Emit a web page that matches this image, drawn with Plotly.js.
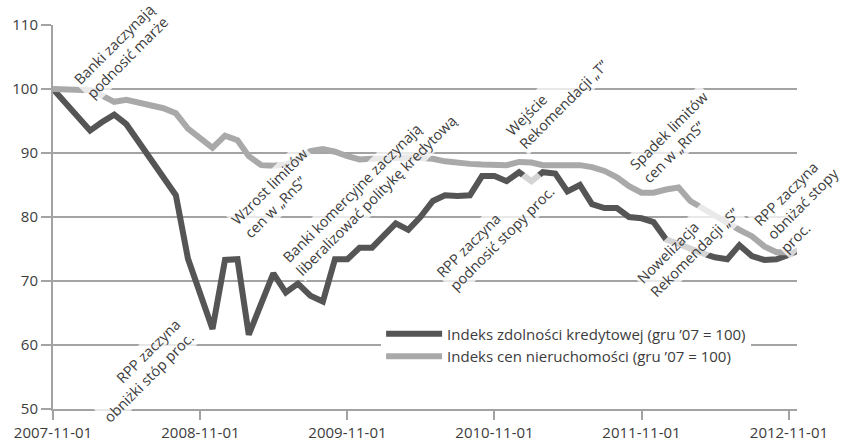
<!DOCTYPE html>
<html>
<head>
<meta charset="utf-8">
<script src="https://cdn.plot.ly/plotly-3.0.1.min.js"></script>
<style>
html,body{margin:0;padding:0;background:#fff;}
#chart{width:841px;height:443px;}
</style>
</head>
<body>
<div id="chart"></div>
<script>
// ---- data ----
var startYear = 2007, startMonth = 11; // first observation: 2007-11-01, monthly
var seriesNames = [
  "Indeks zdolności kredytowej (gru ’07 = 100)",
  "Indeks cen nieruchomości (gru ’07 = 100)"
];
var creditIndex = [
  100, 97.8, 95.6, 93.5, 94.8, 96, 94.5, 91.8, 89, 86.2,
  83.4, 73.5, 67.7, 62.5, 73.3, 73.4, 61.6, 66.5, 71.2, 68.2,
  69.6, 67.7, 66.8, 73.4, 73.4, 75.2, 75.2, 77.2, 79, 78,
  80, 82.5, 83.4, 83.3, 83.4, 86.4, 86.4, 85.6, 87, 85.6,
  87, 86.8, 84, 85, 82, 81.4, 81.4, 80, 79.8, 79.2,
  76.5, 75.8, 75, 74.3, 73.7, 73.4, 75.6, 73.9, 73.3, 73.4,
  74.1, 75
];
var priceIndex = [
  100, 100, 100, 99.8, 99, 98, 98.3, 97.8, 97.4, 97,
  96.2, 93.8, 92.3, 90.8, 92.7, 92, 89.5, 88.1, 88, 88.2,
  89, 90.3, 90.6, 90.2, 89.5, 89, 89.1, 89.2, 89.3, 89.3,
  89.2, 89.1, 88.7, 88.4, 88.3, 88.2, 88.1, 88.1, 88.6, 88.5,
  88.1, 88.1, 88.1, 88.1, 87.8, 87.2, 86.2, 84.8, 83.8, 83.8,
  84.3, 84.6, 82.5, 81.3, 80.2, 79.2, 78, 77, 75.4, 74.5,
  74.5
];
var tickDates = ["2007-11-01","2008-11-01","2009-11-01","2010-11-01","2011-11-01","2012-11-01"];
var eventLabels = [
  "Banki zaczynają<br>podnosić marże",
  "RPP zaczyna<br>obniżki stóp proc.",
  "Wzrost limitów<br>cen w „RnS”",
  "Banki komercyjne zaczynają<br>liberalizować politykę kredytową",
  "RPP zaczyna<br>podnosić stopy proc.",
  "Wejście<br>Rekomendacji „T”",
  "Spadek limitów<br>cen w „RnS”",
  "Nowelizacja<br>Rekomendacji „S”",
  "RPP zaczyna<br>obniżać stopy<br>proc."
];

// ---- build ----
function monthDates(n){
  var out = [];
  for (var i = 0; i < n; i++){
    var m = startMonth - 1 + i;
    var y = startYear + Math.floor(m / 12);
    var mm = (m % 12) + 1;
    out.push(y + "-" + (mm < 10 ? "0" + mm : mm) + "-01");
  }
  return out;
}

var FONT = "Open Sans, DejaVu Sans, sans-serif";
var TXT = "#3c3c3c";
var GRID = "#a3a3a3";

var traces = [
  {x: monthDates(creditIndex.length), y: creditIndex, name: seriesNames[0], type: "scatter", mode: "lines",
   line: {color: "#555555", width: 6}},
  {x: monthDates(priceIndex.length), y: priceIndex, name: seriesNames[1], type: "scatter", mode: "lines",
   line: {color: "#a9a9a9", width: 6}}
];

// label placement (paper coords) and alignment
var labelPos = [
  [0.091, 0.932, "center"],
  [0.119, 0.100, "right"],
  [0.300, 0.562, "left"],
  [0.425, 0.573, "left"],
  [0.594, 0.462, "left"],
  [0.677, 0.810, "left"],
  [0.837, 0.708, "left"],
  [0.853, 0.425, "left"],
  [1.008, 0.536, "left"]
];
var annotations = eventLabels.map(function(t, i){
  return {text: t, xref: "paper", yref: "paper", x: labelPos[i][0], y: labelPos[i][1],
    xanchor: "center", yanchor: "middle", showarrow: false, textangle: -45,
    align: labelPos[i][2], bgcolor: "rgba(255,255,255,0.75)", borderpad: 1,
    font: {family: FONT, size: 14.5, color: TXT}};
});

var layout = {
  width: 841, height: 443,
  margin: {l: 53, r: 44, t: 25, b: 34},
  paper_bgcolor: "#fff", plot_bgcolor: "#fff",
  font: {family: FONT, color: TXT},
  showlegend: true,
  legend: {x: 0.441, y: 0.238, xanchor: "left", yanchor: "top", bgcolor: "#fff",
    itemwidth: 56, font: {family: FONT, size: 15, color: TXT}, tracegroupgap: 0},
  xaxis: {type: "date", range: ["2007-11-01", "2012-11-21"],
    tickvals: tickDates, ticktext: tickDates,
    showgrid: false, showline: true, linecolor: GRID, linewidth: 2,
    ticks: "outside", ticklen: 9, tickwidth: 2, tickcolor: GRID,
    ticklabelstandoff: 0,
    tickfont: {family: FONT, size: 15, color: TXT}},
  yaxis: {range: [50, 110], dtick: 10, tick0: 50,
    showgrid: true, gridcolor: GRID, gridwidth: 2, zeroline: false,
    showline: true, linecolor: GRID, linewidth: 2,
    ticks: "outside", ticklen: 10, tickwidth: 2, tickcolor: GRID,
    tickfont: {family: FONT, size: 15, color: TXT}},
  shapes: [{type: "rect", layer: "between", xref: "paper", yref: "y",
    x0: 0.3965, x1: 1, y0: 59, y1: 61, fillcolor: "#fff", line: {width: 0}}],
  annotations: annotations
};

Plotly.newPlot("chart", traces, layout, {displayModeBar: false, staticPlot: true});
</script>
</body>
</html>
